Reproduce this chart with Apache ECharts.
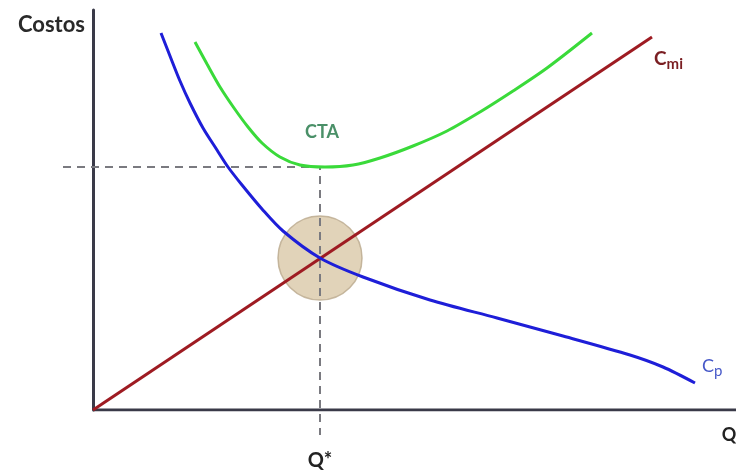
<!DOCTYPE html>
<html>
<head>
<meta charset="utf-8">
<script src="https://cdn.jsdelivr.net/npm/echarts@6/dist/echarts.min.js"></script>
<style>
html,body{margin:0;padding:0;background:#fff;}
#chart{width:736px;height:472px;}
</style>
</head>
<body>
<div id="chart"></div>
<script>
// Data (arbitrary units: Q horizontally, Costos vertically)
const qCp    = [68, 77, 87, 97, 110, 124, 135, 149, 169, 190, 227, 270, 337, 404, 470, 537, 570, 602];
const costCp = [377, 354, 329, 307, 282, 260, 243, 225, 201, 179, 152, 133, 110, 92, 74, 55, 43, 27];

const qCta    = [102, 114, 127, 141, 155, 169, 187, 207, 232, 260, 287, 320, 354, 387, 420, 454, 499];
const costCta = [368, 346, 323, 302, 283, 267, 253, 245, 243, 245, 252, 264, 279, 298, 319, 342, 377];

const qCmi    = [0, 559];
const costCmi = [0, 373];

const qStar = 227;          // optimal quantity Q*
const costStarCta = 243;    // CTA level at Q*
const costStarCross = 152;  // Cmi = Cp at Q*
const guideLeft = -30;      // horizontal guide starts left of the Costos axis
const guideBottom = -25;    // vertical guide extends below the Q axis

const xMax = 643, yMax = 400;

const zip = (a, b) => a.map((v, i) => [v, b[i]]);
const FONT = 'Lato, "Open Sans", sans-serif';
const AXIS_COLOR = '#3a3a48';

const chart = echarts.init(document.getElementById('chart'), null, {renderer: 'canvas'});
chart.setOption({
  animation: false,
  backgroundColor: '#ffffff',
  grid: {left: 63, right: 0, top: 10, bottom: 62, outerBoundsMode: 'none'},
  xAxis: {
    type: 'value', min: guideLeft, max: xMax,
    name: 'Q', nameLocation: 'end', nameGap: -7,
    nameTextStyle: {fontFamily: FONT, fontWeight: 'bold', fontSize: 18, color: '#222',
                    align: 'center', verticalAlign: 'top', padding: [16, 0, 0, 0]},
    axisLine: {show: false},
    axisTick: {show: false},
    splitLine: {show: false},
    axisLabel: {show: true, customValues: [qStar], formatter: () => 'Q*', margin: 41,
                fontFamily: FONT, fontWeight: 'bold', fontSize: 20, color: '#222'}
  },
  yAxis: {
    type: 'value', min: 0, max: yMax,
    name: 'Costos', nameLocation: 'end', nameGap: -15,
    nameTextStyle: {fontFamily: FONT, fontWeight: 'bold', fontSize: 22, color: '#2a2a2a',
                    align: 'right', verticalAlign: 'middle', padding: [0, 8, 0, 0]},
    axisLine: {show: true, onZero: true, lineStyle: {color: AXIS_COLOR, width: 3}},
    axisTick: {show: false},
    splitLine: {show: false},
    axisLabel: {show: false}
  },
  series: [
    { // Q axis line, starting at the origin
      type: 'line', z: 1, silent: true,
      data: [[0, 0], [xMax, 0]],
      symbol: 'none',
      lineStyle: {color: AXIS_COLOR, width: 3}
    },
    {
      type: 'scatter', z: 2, silent: true,
      data: [[qStar, costStarCross]],
      symbol: 'circle', symbolSize: 84,
      itemStyle: {color: 'rgba(214,194,158,0.9)', borderColor: '#b9a78b', borderWidth: 1.5}
    },
    {
      type: 'line', z: 3, clip: false, silent: true,
      data: [[guideLeft, costStarCta], [qStar, costStarCta], [qStar, guideBottom]],
      symbol: 'none',
      lineStyle: {color: '#7a7a80', width: 2, type: [8, 6]}
    },
    {
      type: 'line', z: 4, name: 'Cmi',
      data: zip(qCmi, costCmi),
      symbol: 'none',
      lineStyle: {color: '#9e1b22', width: 3},
      endLabel: {
        show: true, offset: [-6, 22],
        formatter: '{a|C}{b|mi}',
        rich: {
          a: {fontFamily: FONT, fontWeight: 'bold', fontSize: 19, color: '#7a1e22'},
          b: {fontFamily: FONT, fontWeight: 'bold', fontSize: 15, color: '#7a1e22', padding: [10, 0, 0, 0]}
        }
      }
    },
    {
      type: 'line', z: 5, name: 'Cp',
      data: zip(qCp, costCp),
      symbol: 'none', smooth: 0.3,
      lineStyle: {color: '#1e1ed8', width: 3},
      endLabel: {
        show: true, offset: [-1, -17],
        formatter: '{a|C}{b|p}',
        rich: {
          a: {fontFamily: FONT, fontSize: 18, color: '#4658c8'},
          b: {fontFamily: FONT, fontSize: 15, color: '#4658c8', padding: [10, 0, 0, 0]}
        }
      }
    },
    {
      type: 'line', z: 6, name: 'CTA',
      data: zip(qCta, costCta),
      symbol: 'none', smooth: 0.3,
      lineStyle: {color: '#3ada3a', width: 3},
      markPoint: {
        symbol: 'circle', symbolSize: 0,
        data: [{coord: [qStar, costStarCta]}],
        label: {show: true, formatter: 'CTA', offset: [2, -35],
                fontFamily: FONT, fontWeight: 'bold', fontSize: 18, color: '#4a9068'}
      }
    }
  ]
});
</script>
</body>
</html>
